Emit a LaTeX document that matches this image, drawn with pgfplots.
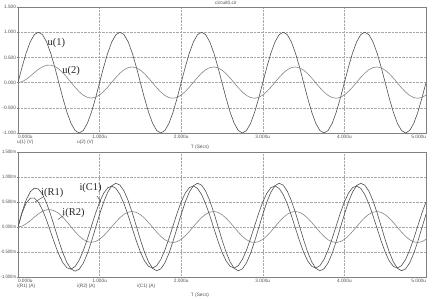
\documentclass[border=0pt]{standalone}
\usepackage{pgfplots}
\pgfplotsset{compat=1.18}
\usepackage{pgfplotstable}
\usepackage{fontspec}
\setmainfont{Liberation Sans}
\newfontfamily\serifl{Liberation Serif}

\definecolor{lineA}{HTML}{505050}
\definecolor{lineB}{HTML}{858585}
\definecolor{gridc}{HTML}{A8A8A8}
\definecolor{framec}{HTML}{808080}
\definecolor{txt}{HTML}{505050}

\pgfplotstableread{
t u1 u2
0.00 0.0000 0.0000
0.05 0.3090 0.0177
0.10 0.5878 0.0638
0.15 0.8090 0.1275
0.20 0.9511 0.1974
0.25 1.0000 0.2628
0.30 0.9511 0.3140
0.35 0.8090 0.3437
0.40 0.5878 0.3469
0.45 0.3090 0.3219
0.50 0.0000 0.2699
0.55 -0.3090 0.1949
0.60 -0.5878 0.1036
0.65 -0.8090 0.0044
0.70 -0.9511 -0.0936
0.75 -1.0000 -0.1810
0.80 -0.9511 -0.2496
0.85 -0.8090 -0.2929
0.90 -0.5878 -0.3069
0.95 -0.3090 -0.2905
1.00 0.0000 -0.2451
1.05 0.3090 -0.1754
1.10 0.5878 -0.0882
1.15 0.8090 0.0077
1.20 0.9511 0.1023
1.25 1.0000 0.1879
1.30 0.9511 0.2550
1.35 0.8090 0.2972
1.40 0.5878 0.3103
1.45 0.3090 0.2931
1.50 0.0000 0.2472
1.55 -0.3090 0.1770
1.60 -0.5878 0.0895
1.65 -0.8090 -0.0067
1.70 -0.9511 -0.1023
1.75 -1.0000 -0.1879
1.80 -0.9511 -0.2550
1.85 -0.8090 -0.2972
1.90 -0.5878 -0.3103
1.95 -0.3090 -0.2931
2.00 0.0000 -0.2472
2.05 0.3090 -0.1770
2.10 0.5878 -0.0895
2.15 0.8090 0.0067
2.20 0.9511 0.1023
2.25 1.0000 0.1879
2.30 0.9511 0.2550
2.35 0.8090 0.2972
2.40 0.5878 0.3103
2.45 0.3090 0.2931
2.50 0.0000 0.2472
2.55 -0.3090 0.1770
2.60 -0.5878 0.0895
2.65 -0.8090 -0.0067
2.70 -0.9511 -0.1023
2.75 -1.0000 -0.1879
2.80 -0.9511 -0.2550
2.85 -0.8090 -0.2972
2.90 -0.5878 -0.3103
2.95 -0.3090 -0.2931
3.00 0.0000 -0.2472
3.05 0.3090 -0.1770
3.10 0.5878 -0.0895
3.15 0.8090 0.0067
3.20 0.9511 0.1023
3.25 1.0000 0.1879
3.30 0.9511 0.2550
3.35 0.8090 0.2972
3.40 0.5878 0.3103
3.45 0.3090 0.2931
3.50 0.0000 0.2472
3.55 -0.3090 0.1770
3.60 -0.5878 0.0895
3.65 -0.8090 -0.0067
3.70 -0.9511 -0.1023
3.75 -1.0000 -0.1879
3.80 -0.9511 -0.2550
3.85 -0.8090 -0.2972
3.90 -0.5878 -0.3103
3.95 -0.3090 -0.2931
4.00 0.0000 -0.2472
4.05 0.3090 -0.1770
4.10 0.5878 -0.0895
4.15 0.8090 0.0067
4.20 0.9511 0.1023
4.25 1.0000 0.1879
4.30 0.9511 0.2550
4.35 0.8090 0.2972
4.40 0.5878 0.3103
4.45 0.3090 0.2931
4.50 0.0000 0.2472
4.55 -0.3090 0.1770
4.60 -0.5878 0.0895
4.65 -0.8090 -0.0067
4.70 -0.9511 -0.1023
4.75 -1.0000 -0.1879
4.80 -0.9511 -0.2550
4.85 -0.8090 -0.2972
4.90 -0.5878 -0.3103
4.95 -0.3090 -0.2931
5.00 0.0000 -0.2472
}\voltages

\pgfplotstableread{
t iR1 iR2 iC1
0.00 0.0000 0.0000 0.0000
0.05 0.3003 0.0177 0.2826
0.10 0.5402 0.0638 0.4764
0.15 0.7026 0.1275 0.5751
0.20 0.7770 0.1974 0.5796
0.25 0.7600 0.2628 0.4972
0.30 0.6568 0.3140 0.3428
0.35 0.4797 0.3437 0.1360
0.40 0.2484 0.3469 -0.0985
0.45 -0.0133 0.3219 -0.3352
0.50 -0.2782 0.2699 -0.5481
0.55 -0.5195 0.1949 -0.7144
0.60 -0.7128 0.1036 -0.8164
0.65 -0.8386 0.0044 -0.8430
0.70 -0.8840 -0.0936 -0.7904
0.75 -0.8443 -0.1810 -0.6633
0.80 -0.7232 -0.2496 -0.4736
0.85 -0.5321 -0.2929 -0.2392
0.90 -0.2896 -0.3069 0.0173
0.95 -0.0191 -0.2905 0.2714
1.00 0.2527 -0.2451 0.4978
1.05 0.4994 -0.1754 0.6748
1.10 0.6969 -0.0882 0.7851
1.15 0.8261 0.0077 0.8184
1.20 0.8751 0.1023 0.7728
1.25 0.8372 0.1879 0.6493
1.30 0.7176 0.2550 0.4626
1.35 0.5276 0.2972 0.2304
1.40 0.2861 0.3103 -0.0242
1.45 0.0164 0.2931 -0.2767
1.50 -0.2548 0.2472 -0.5020
1.55 -0.5010 0.1770 -0.6780
1.60 -0.6982 0.0895 -0.7877
1.65 -0.8271 -0.0067 -0.8204
1.70 -0.8751 -0.1023 -0.7728
1.75 -0.8372 -0.1879 -0.6493
1.80 -0.7176 -0.2550 -0.4626
1.85 -0.5276 -0.2972 -0.2304
1.90 -0.2861 -0.3103 0.0242
1.95 -0.0164 -0.2931 0.2767
2.00 0.2548 -0.2472 0.5020
2.05 0.5010 -0.1770 0.6780
2.10 0.6982 -0.0895 0.7877
2.15 0.8271 0.0067 0.8204
2.20 0.8751 0.1023 0.7728
2.25 0.8372 0.1879 0.6493
2.30 0.7176 0.2550 0.4626
2.35 0.5276 0.2972 0.2304
2.40 0.2861 0.3103 -0.0242
2.45 0.0164 0.2931 -0.2767
2.50 -0.2548 0.2472 -0.5020
2.55 -0.5010 0.1770 -0.6780
2.60 -0.6982 0.0895 -0.7877
2.65 -0.8271 -0.0067 -0.8204
2.70 -0.8751 -0.1023 -0.7728
2.75 -0.8372 -0.1879 -0.6493
2.80 -0.7176 -0.2550 -0.4626
2.85 -0.5276 -0.2972 -0.2304
2.90 -0.2861 -0.3103 0.0242
2.95 -0.0164 -0.2931 0.2767
3.00 0.2548 -0.2472 0.5020
3.05 0.5010 -0.1770 0.6780
3.10 0.6982 -0.0895 0.7877
3.15 0.8271 0.0067 0.8204
3.20 0.8751 0.1023 0.7728
3.25 0.8372 0.1879 0.6493
3.30 0.7176 0.2550 0.4626
3.35 0.5276 0.2972 0.2304
3.40 0.2861 0.3103 -0.0242
3.45 0.0164 0.2931 -0.2767
3.50 -0.2548 0.2472 -0.5020
3.55 -0.5010 0.1770 -0.6780
3.60 -0.6982 0.0895 -0.7877
3.65 -0.8271 -0.0067 -0.8204
3.70 -0.8751 -0.1023 -0.7728
3.75 -0.8372 -0.1879 -0.6493
3.80 -0.7176 -0.2550 -0.4626
3.85 -0.5276 -0.2972 -0.2304
3.90 -0.2861 -0.3103 0.0242
3.95 -0.0164 -0.2931 0.2767
4.00 0.2548 -0.2472 0.5020
4.05 0.5010 -0.1770 0.6780
4.10 0.6982 -0.0895 0.7877
4.15 0.8271 0.0067 0.8204
4.20 0.8751 0.1023 0.7728
4.25 0.8372 0.1879 0.6493
4.30 0.7176 0.2550 0.4626
4.35 0.5276 0.2972 0.2304
4.40 0.2861 0.3103 -0.0242
4.45 0.0164 0.2931 -0.2767
4.50 -0.2548 0.2472 -0.5020
4.55 -0.5010 0.1770 -0.6780
4.60 -0.6982 0.0895 -0.7877
4.65 -0.8271 -0.0067 -0.8204
4.70 -0.8751 -0.1023 -0.7728
4.75 -0.8372 -0.1879 -0.6493
4.80 -0.7176 -0.2550 -0.4626
4.85 -0.5276 -0.2972 -0.2304
4.90 -0.2861 -0.3103 0.0242
4.95 -0.0164 -0.2931 0.2767
5.00 0.2548 -0.2472 0.5020
}\currents

\pgfplotsset{
  mcap/.style={
    scale only axis, width=408bp, xmin=0, xmax=5,
    xtick={0,1,2,3,4,5},
    xticklabels={\rlap{0.000u},1.000u,2.000u,3.000u,4.000u,\llap{5.000u}},
    grid=major,
    major grid style={densely dotted, gridc, line width=0.4bp},
    axis line style={framec, line width=0.5bp},
    tick style={framec, line width=0.4bp},
    major tick length=1.5bp, tick align=outside,
    xtick style={draw=none},
    ticklabel style={font=\fontsize{4.8}{5.5}\selectfont, text=txt},
    xticklabel style={inner sep=0.4bp, anchor=north},
    yticklabel style={inner sep=0.3bp, anchor=east},
    clip=true,
  }
}

\begin{document}
\begin{tikzpicture}
\useasboundingbox (0,0) rectangle (434bp,299bp);

\begin{axis}[mcap, at={(18bp,166bp)}, anchor=south west, height=126bp,
  ymin=-1, ymax=1.5, ytick={-1,-0.5,0,0.5,1,1.5},
  yticklabels={-1.000,-0.500,0.000,0.500,1.000,1.500}]
\addplot[lineA, line width=0.6bp] table[x=t, y=u1] {\voltages};
\addplot[lineB, line width=0.6bp] table[x=t, y=u2] {\voltages};
\node[font=\serifl\fontsize{10.5}{11}\selectfont, text=black!85] at (axis cs:0.47,0.78) {u(1)};
\node[font=\serifl\fontsize{10.5}{11}\selectfont, text=black!85] at (axis cs:0.65,0.24) {u(2)};
\end{axis}

\begin{axis}[mcap, at={(18bp,22bp)}, anchor=south west, height=125bp,
  ymin=-1, ymax=1.5, ytick={-1,-0.5,0,0.5,1,1.5},
  yticklabel style={xscale=0.88},
  yticklabels={-1.000m,-0.500m,0.000m,0.500m,1.000m,1.500m}]
\addplot[lineA, line width=0.6bp] table[x=t, y=iR1] {\currents};
\addplot[lineB, line width=0.6bp] table[x=t, y=iR2] {\currents};
\addplot[lineA, line width=0.6bp] table[x=t, y=iC1] {\currents};
\node[font=\serifl\fontsize{10.5}{11}\selectfont, text=black!85] at (axis cs:0.42,0.68) {i(R1)};
\node[font=\serifl\fontsize{10.5}{11}\selectfont, text=black!85] at (axis cs:0.89,0.78) {i(C1)};
\node[font=\serifl\fontsize{10.5}{11}\selectfont, text=black!85] at (axis cs:0.68,0.28) {i(R2)};
\draw[lineA, line width=0.5bp] (axis cs:0.306,0.60) -- (axis cs:0.208,0.50);
\draw[lineA, line width=0.5bp] (axis cs:0.968,0.62) -- (axis cs:1.017,0.50);
\draw[lineA, line width=0.5bp] (axis cs:0.56,0.23) -- (axis cs:0.49,0.15);
\end{axis}

\begin{scope}[every node/.style={font=\fontsize{4.8}{5.5}\selectfont, text=txt, inner sep=0pt}]
\node[anchor=west] at (17bp,157bp) {u(1) (V)};
\node[anchor=west] at (77bp,157bp) {u(2) (V)};
\node at (200bp,152bp) {T (Secs)};
\node[anchor=west] at (17bp,13bp) {i(R1) (A)};
\node[anchor=west] at (77bp,13bp) {i(R2) (A)};
\node[anchor=west] at (137bp,13bp) {i(C1) (A)};
\node at (200bp,4bp) {T (Secs)};
\node at (226bp,296bp) {circuit0.cir};
\end{scope}
\end{tikzpicture}
\end{document}
